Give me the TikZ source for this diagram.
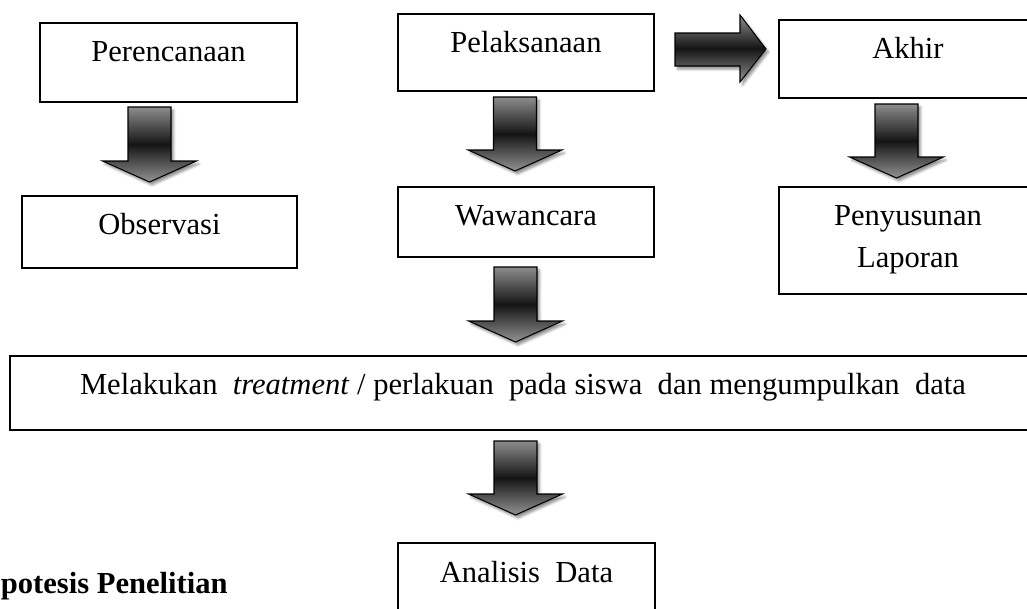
\documentclass[tikz,border=0pt]{standalone}
\usepackage{fontspec}
\setmainfont{Liberation Serif}
\usetikzlibrary{shadows.blur}

\tikzset{
	kotak/.style={draw, line width=1pt, inner sep=0pt, anchor=north, align=center, text height=0.78cm},
	panah/.style={draw=black, line width=0.6pt, top color=gray!90, bottom color=gray!85, middle color=black!92,
		blur shadow={shadow xshift=0.05cm, shadow yshift=-0.06cm, shadow blur radius=0.05cm, shadow opacity=45}}
}
\newcommand{\panahturun}[3]{%
	\draw[panah] ({#1-0.43},#2)--({#1+0.43},#2)--({#1+0.43},{#3+0.42})--({#1+0.94},{#3+0.42})
	--(#1,#3)--({#1-0.94},{#3+0.42})--({#1-0.43},{#3+0.42})--cycle;}

\begin{document}
\begin{tikzpicture}[font=\fontsize{17.4}{23.9}\selectfont]
		\useasboundingbox(0,0) rectangle (20.54,-12.18);
		\clip(0,0) rectangle (20.54,-12.18);
		\node[kotak, minimum width=5.14cm, text depth=0.80cm](rencana) at(3.37,-0.44){Perencanaan};
		\node[kotak, minimum width=5.50cm, text depth=0.66cm](observasi) at(3.19,-3.90){Observasi};
		\node[kotak, minimum width=5.12cm, text depth=0.76cm](laksana) at(10.52,-0.26){Pelaksanaan};
		\node[kotak, minimum width=5.12cm, text depth=0.62cm](wawancara) at(10.52,-3.72){Wawancara};
		\node[kotak, minimum width=5.16cm, text depth=0.78cm](akhir) at(18.16,-0.38){Akhir};
		\node[kotak, minimum width=5.16cm, text height=1.62cm, text depth=0.52cm](laporan) at(18.16,-3.72){Penyusunan\\Laporan};
		\node[kotak, minimum width=20.52cm, text depth=0.70cm](treatment) at(10.46,-7.10){Melakukan \ \textit{treatment} / perlakuan \ pada siswa \ dan mengumpulkan \ data};
		\node[kotak, minimum width=5.14cm, text height=0.80cm, text depth=1.2cm](analisis) at(10.53,-10.84){Analisis \ Data};
		\node[font=\fontsize{17.4}{23.9}\selectfont\bfseries, anchor=base east, inner sep=0pt](hipotesis) at(4.56,-11.86){potesis Penelitian};
		\panahturun{2.99}{-2.14}{-3.64}
		\panahturun{10.30}{-1.94}{-3.42}
		\panahturun{17.93}{-2.08}{-3.56}
		\panahturun{10.31}{-5.34}{-6.84}
		\panahturun{10.31}{-8.82}{-10.30}
		\draw[panah](13.50,-0.66)--(14.80,-0.66)--(14.80,-0.30)--(15.32,-0.98)--(14.80,-1.64)--(14.80,-1.32)--(13.50,-1.32)--cycle;
		\end{tikzpicture}
\end{document}
